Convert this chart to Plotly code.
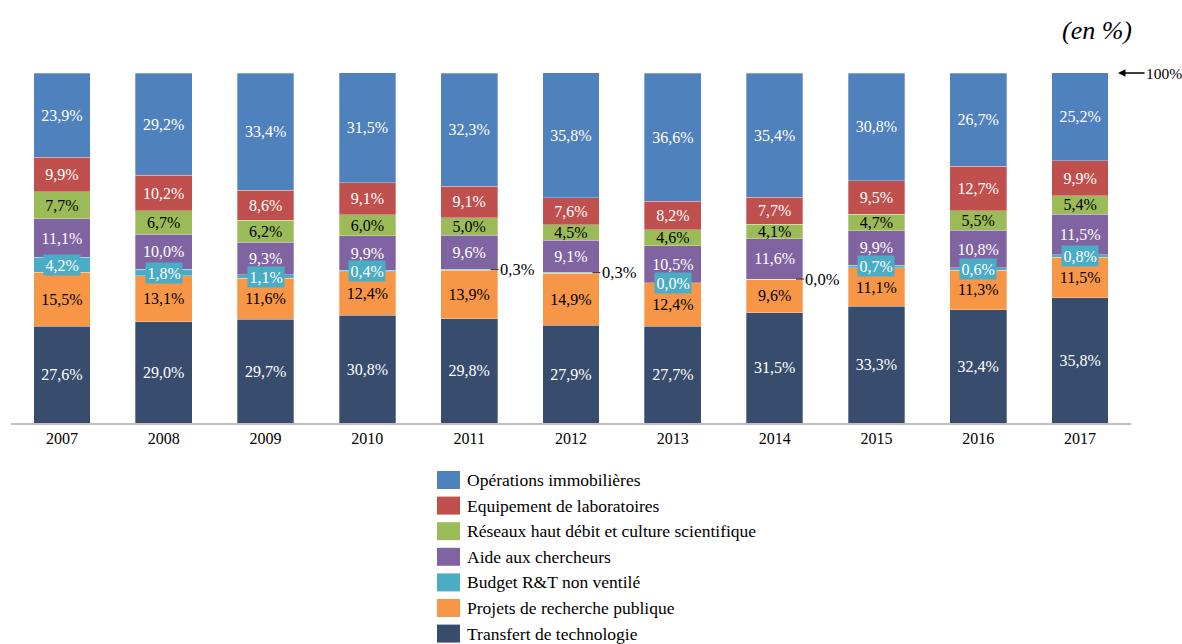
import plotly.graph_objects as go

years = ["2007", "2008", "2009", "2010", "2011", "2012", "2013", "2014", "2015", "2016", "2017"]

transfert = [27.6, 29.0, 29.7, 30.8, 29.8, 27.9, 27.7, 31.5, 33.3, 32.4, 35.8]
projets = [15.5, 13.1, 11.6, 12.4, 13.9, 14.9, 12.4, 9.6, 11.1, 11.3, 11.5]
budget = [4.2, 1.8, 1.1, 0.4, 0.3, 0.3, 0.0, 0.0, 0.7, 0.6, 0.8]
aide = [11.1, 10.0, 9.3, 9.9, 9.6, 9.1, 10.5, 11.6, 9.9, 10.8, 11.5]
reseaux = [7.7, 6.7, 6.2, 6.0, 5.0, 4.5, 4.6, 4.1, 4.7, 5.5, 5.4]
equipement = [9.9, 10.2, 8.6, 9.1, 9.1, 7.6, 8.2, 7.7, 9.5, 12.7, 9.9]
operations = [23.9, 29.2, 33.4, 31.5, 32.3, 35.8, 36.6, 35.4, 30.8, 26.7, 25.2]

series = [
    ("Transfert de technologie", transfert, "#384D6D", "white"),
    ("Projets de recherche publique", projets, "#F79646", "black"),
    ("Budget R&T non ventilé", budget, "#4BACC6", "white"),
    ("Aide aux chercheurs", aide, "#8064A2", "white"),
    ("Réseaux haut débit et culture scientifique", reseaux, "#9BBB59", "black"),
    ("Equipement de laboratoires", equipement, "#C0504D", "white"),
    ("Opérations immobilières", operations, "#4F81BD", "white"),
]

FONT = "Liberation Serif, Times New Roman, serif"
OUTSIDE_YEARS = {"2011", "2012", "2014"}

W, H = 1182, 644
ML, MR, MT, MB = 11, 51, 73, 221
PW, PH = W - ML - MR, H - MT - MB
BARGAP = 0.443


def px2paper_x(px):
    return (px - ML) / PW


def px2paper_y(py):
    return (H - MB - py) / PH


fig = go.Figure()
for name, vals, color, tcolor in series:
    is_budget = name.startswith("Budget")
    fig.add_trace(go.Bar(
        x=years, y=vals, name=name,
        marker=dict(color=color, line=dict(color="rgba(255,255,255,0.5)", width=0.6)),
        texttemplate=None if is_budget else "%{y:.1f}%",
        textposition="none" if is_budget else "inside",
        insidetextanchor="middle",
        textangle=0,
        insidetextfont=dict(color=tcolor, size=16, family=FONT),
        hoverinfo="skip",
        showlegend=False,
    ))

annotations = []
shapes = []

half_bar_px = (1 - BARGAP) * PW / len(years) / 2

# Budget R&T labels
for i, yr in enumerate(years):
    mid = transfert[i] + projets[i] + budget[i] / 2
    txt = f"{budget[i]:.1f}%".replace(".", ",")
    if yr in OUTSIDE_YEARS:
        annotations.append(dict(
            x=i, y=mid, xref="x", yref="y", text=txt,
            showarrow=True, arrowhead=0, arrowwidth=1.2, arrowcolor="#5a3b2e",
            ax=27, ay=0, xshift=half_bar_px - 7,
            font=dict(family=FONT, size=16.5, color="black"),
        ))
    else:
        annotations.append(dict(
            x=i, y=mid, xref="x", yref="y", text=txt, showarrow=False,
            bgcolor="#4BACC6", borderpad=1.5,
            font=dict(family=FONT, size=16, color="white"),
        ))

annotations.append(dict(
    x=px2paper_x(1134), y=px2paper_y(30), xref="paper", yref="paper", text="(en %)",
    showarrow=False, xanchor="right", yanchor="middle",
    font=dict(family=FONT, size=26, color="black", style="italic"),
))
annotations.append(dict(
    x=10.5, y=100, xref="x", yref="y", text="100%", showarrow=True,
    arrowhead=2, arrowsize=1, arrowwidth=1.5, arrowcolor="black",
    ax=46, ay=0, xshift=-13,
    font=dict(family=FONT, size=15.5, color="black"),
))

# Manual legend (top to bottom: reversed stacking order)
row0, row_gap = 480, 25.6
for k, (name, vals, color, tcolor) in enumerate(reversed(series)):
    cy = row0 + k * row_gap
    shapes.append(dict(
        type="rect", xref="paper", yref="paper",
        x0=px2paper_x(437), x1=px2paper_x(460),
        y0=px2paper_y(cy - 9), y1=px2paper_y(cy + 9),
        fillcolor=color, line=dict(width=0),
    ))
    annotations.append(dict(
        x=px2paper_x(465), y=px2paper_y(cy), xref="paper", yref="paper",
        text=name, showarrow=False, xanchor="left", yanchor="middle",
        font=dict(family=FONT, size=17.5, color="black"),
    ))

fig.update_layout(
    barmode="stack",
    bargap=BARGAP,
    width=W, height=H,
    margin=dict(l=ML, r=MR, t=MT, b=MB, autoexpand=False),
    paper_bgcolor="white", plot_bgcolor="white",
    separators=", ",
    uniformtext=dict(minsize=16, mode="show"),
    font=dict(family=FONT, size=16, color="black"),
    xaxis=dict(type="category", showline=True, linecolor="#bfbfbf", linewidth=1.5,
               ticks="", showgrid=False, tickfont=dict(size=16, color="black"),
               range=[-0.5, 10.5]),
    yaxis=dict(range=[0, 100], visible=False, showgrid=False),
    annotations=annotations,
    shapes=shapes,
    showlegend=False,
)

fig.write_html("out.html", config={"displayModeBar": False},
               post_script="document.body.style.margin='0';")
